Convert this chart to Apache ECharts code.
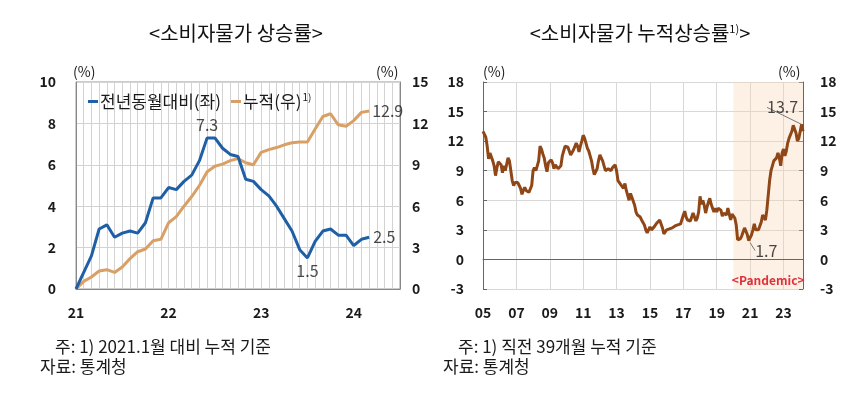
<!DOCTYPE html>
<html><head><meta charset="utf-8">
<script src="https://cdn.jsdelivr.net/npm/echarts@6/dist/echarts.min.js"></script>
<style>html,body{margin:0;padding:0;background:#fff}#c{width:857px;height:395px}</style>
</head><body><div id="c"></div>
<script>
// ---------- Left chart data (Jan 2021 = 0) ----------
const leftTickLabels = ['21','22','23','24'];
const yoyValues = [0,0.8,1.6,2.9,3.1,2.5,2.7,2.8,2.7,3.2,4.4,4.4,4.9,4.8,5.2,5.5,6.2,7.3,7.3,6.8,6.5,6.4,5.3,5.2,4.8,4.5,4.0,3.4,2.8,1.9,1.5,2.3,2.8,2.9,2.6,2.6,2.1,2.4,2.5];
const cumSince2021 = [0,0.55,0.87,1.3,1.4,1.2,1.6,2.2,2.7,2.9,3.5,3.6,4.8,5.25,6.0,6.7,7.5,8.5,8.9,9.05,9.3,9.45,9.15,9.0,9.9,10.1,10.25,10.45,10.6,10.65,10.65,11.6,12.5,12.7,11.9,11.8,12.2,12.8,12.9];
// ---------- Right chart data (39-month cumulative) ----------
const rightTickLabels = ['05','07','09','11','13','15','17','19','21','23'];
const cum2005 = [13.0,13.2,12.4,11.5,10.2,10.8,10.6,10.0,9.5,8.5,9.3,9.9];
const cum2006 = [9.8,9.6,8.8,9.5,9.0,8.8,10.3,10.0,9.0,8.0,7.5,7.8];
const cum2007 = [8.0,7.8,7.5,7.2,6.6,7.0,7.3,7.0,6.9,6.8,6.6,7.5];
const cum2008 = [9.0,9.3,9.0,9.5,10.0,11.5,11.2,10.7,10.3,9.5,8.9,9.8];
const cum2009 = [10.0,10.1,9.8,9.2,9.6,9.8,9.2,9.0,9.5,10.5,11.0,11.5];
const cum2010 = [11.7,11.4,11.0,10.6,10.8,11.1,11.3,11.8,11.5,10.9,11.5,12.0];
const cum2011 = [12.6,12.3,11.8,11.3,11.0,10.5,10.0,9.2,8.6,8.7,9.2,10.0];
const cum2012 = [10.6,10.5,10.0,9.5,9.0,8.9,9.2,9.4,9.0,9.3,9.2,9.6];
const cum2013 = [9.0,8.0,7.8,7.6,7.5,7.2,7.7,7.0,6.5,6.0,6.7,6.3];
const cum2014 = [6.3,5.5,4.8,4.5,4.3,4.3,4.0,3.8,3.5,3.0,2.7,3.0];
const cum2015 = [3.3,3.0,3.1,3.3,3.5,3.7,3.9,4.0,3.8,3.2,2.6,2.5];
const cum2016 = [3.0,2.8,3.1,3.0,3.2,3.1,3.4,3.3,3.5,3.4,3.6,3.5];
const cum2017 = [4.5,4.9,4.3,4.0,3.8,3.9,4.3,4.7,4.5,3.9,4.2,4.8];
const cum2018 = [6.4,5.6,6.0,5.5,4.7,5.3,5.8,6.2,5.6,5.2,4.8,5.2];
const cum2019 = [4.8,5.2,5.1,5.0,4.4,4.7,4.9,4.5,5.2,4.6,4.0,4.6];
const cum2020 = [4.5,4.2,3.5,2.0,1.9,2.1,2.4,2.8,3.2,3.0,2.5,1.9];
const cum2021 = [1.7,2.5,3.0,3.6,3.0,3.2,3.0,3.4,3.8,4.5,4.3,4.0];
const cum2022 = [5.0,6.5,8.0,9.0,9.5,10.0,10.2,10.3,10.8,10.3,9.5,10.8];
const cum2023 = [11.2,10.5,11.0,11.8,12.3,12.5,13.0,13.6,13.2,12.8,12.0,12.3];
const cum2024 = [13.0,13.7,13.0];

const cum39 = [].concat(cum2005,cum2006,cum2007,cum2008,cum2009,cum2010,cum2011,cum2012,cum2013,cum2014,cum2015,cum2016,cum2017,cum2018,cum2019,cum2020,cum2021,cum2022,cum2023,cum2024);

function months(y0, count){
  const out=[];
  for(let i=0;i<count;i++){const y=y0+Math.floor(i/12), m=i%12+1; out.push(y+'-'+(m<10?'0':'')+m);}
  return out;
}
const leftCats = months(2021, 43);
const rightCats = months(2005, cum39.length);

const F = '"Noto Sans CJK KR", "Noto Sans", sans-serif';
const TXT = '#1a1a1a';
const BLUE = '#1f5fa6', ORANGE = '#d9a066', BROWN = '#8f4718';

const tickStyle = {fontSize:14, fontWeight:'bold', color:TXT, fontFamily:F};
const labelStyle = {fontSize:16, color:TXT, fontFamily:F};

const peakIdx = 17, troughIdx = 30, lastIdx = yoyValues.length-1;
const minIdx = 192, maxIdx = 229;

const chart = echarts.init(document.getElementById('c'), null, {renderer:'canvas'});
chart.setOption({
  animation:false,
  textStyle:{fontFamily:F},
  grid:[
    {left:76, top:82, width:324, height:207, show:true, borderColor:'#9a9a9a', borderWidth:1},
    {left:483, top:82, width:320, height:207}
  ],
  legend:{
    data:['전년동월대비(좌)','누적(우)'],
    left:83, top:87, icon:'rect', itemWidth:10, itemHeight:3, itemGap:10,
    textStyle:{fontSize:17, color:TXT, fontFamily:F, padding:[0,0,0,-3],
      rich:{s:{fontSize:10, verticalAlign:'top', color:TXT, padding:[0,0,9,1]}}},
    formatter: n => n==='누적(우)' ? n+'{s|1)}' : n
  },
  xAxis:[
    {type:'category', gridIndex:0, data:leftCats, boundaryGap:false,
     axisLine:{lineStyle:{color:'#888'}}, axisTick:{show:false},
     axisLabel:Object.assign({margin:17, interval:(i)=>i%12===0,
       formatter:(v,i)=>leftTickLabels[Math.floor(i/12)]}, tickStyle),
     splitLine:{show:true, interval:0, lineStyle:{color:'#d3d3d3'}}},
    {type:'category', gridIndex:1, data:rightCats, boundaryGap:false,
     axisLine:{lineStyle:{color:'#666'}}, axisTick:{show:false},
     axisLabel:Object.assign({margin:17, interval:(i)=>i%24===0,
       formatter:(v,i)=>rightTickLabels[Math.floor(i/24)]}, tickStyle),
     splitLine:{show:true, interval:(i)=>i%24===0 && i>0, lineStyle:{color:'#d8d8d8'}}}
  ],
  yAxis:[
    {type:'value', gridIndex:0, min:0, max:10, interval:2,
     axisLine:{show:true, lineStyle:{color:'#888'}}, axisTick:{show:false},
     axisLabel:Object.assign({margin:20}, tickStyle),
     splitLine:{lineStyle:{color:'#d3d3d3'}}},
    {type:'value', gridIndex:0, position:'right', min:0, max:15, interval:3,
     axisLine:{show:true, lineStyle:{color:'#888'}}, axisTick:{show:false},
     axisLabel:Object.assign({margin:12}, tickStyle), splitLine:{show:false}},
    {type:'value', gridIndex:1, min:-3, max:18, interval:3,
     axisLine:{show:true, lineStyle:{color:'#666'}},
     axisTick:{show:true, inside:true, length:4, lineStyle:{color:'#666'}},
     axisLabel:Object.assign({margin:19}, tickStyle),
     splitLine:{lineStyle:{color:'#d8d8d8'}}},
    {type:'value', gridIndex:1, position:'right', min:-3, max:18, interval:3,
     axisLine:{show:true, lineStyle:{color:'#666'}},
     axisTick:{show:true, inside:true, length:4, lineStyle:{color:'#666'}},
     axisLabel:Object.assign({margin:17}, tickStyle), splitLine:{show:false}}
  ],
  series:[
    {name:'누적(우)', type:'line', xAxisIndex:0, yAxisIndex:1, data:cumSince2021,
     symbol:'none', lineStyle:{color:ORANGE, width:3}, itemStyle:{color:ORANGE}, z:3},
    {name:'전년동월대비(좌)', type:'line', xAxisIndex:0, yAxisIndex:0, data:yoyValues,
     symbol:'none', lineStyle:{color:BLUE, width:3}, itemStyle:{color:BLUE}, z:4},
    {type:'scatter', xAxisIndex:0, yAxisIndex:0, symbolSize:0, silent:true, z:5,
     data:[
       {value:[leftCats[peakIdx], yoyValues[peakIdx]], label:{show:true, position:'top', distance:5}},
       {value:[leftCats[troughIdx], yoyValues[troughIdx]], label:{show:true, position:'bottom', distance:5}},
       {value:[leftCats[lastIdx], yoyValues[lastIdx]], label:{show:true, position:'right', distance:4}}
     ],
     label:Object.assign({formatter:p=>p.value[1].toFixed(1)}, labelStyle)},
    {type:'scatter', xAxisIndex:0, yAxisIndex:1, symbolSize:0, silent:true, z:5,
     data:[{value:[leftCats[lastIdx], cumSince2021[lastIdx]], label:{show:true, position:'right', distance:3}}],
     label:Object.assign({formatter:p=>p.value[1].toFixed(1)}, labelStyle)},
    {type:'line', xAxisIndex:1, yAxisIndex:2, data:cum39, symbol:'none',
     lineStyle:{color:BROWN, width:3}, itemStyle:{color:BROWN}, z:4,
     markLine:{silent:true, symbol:'none', label:{show:false}, data:[{yAxis:0}],
       lineStyle:{color:'#666', width:1, type:'solid'}},
     markArea:{silent:true, itemStyle:{color:'rgba(250,214,182,0.35)'},
       label:{show:true, position:'insideBottom', distance:3, formatter:'<Pandemic>',
         color:'#e0303a', fontSize:12, fontWeight:'bold', fontFamily:F},
       data:[[{xAxis:'2020-01'},{xAxis:rightCats[rightCats.length-1]}]]}},
    {type:'scatter', xAxisIndex:1, yAxisIndex:2, symbolSize:0, silent:true, z:6,
     data:[
       {value:[rightCats[minIdx], cum39[minIdx]], label:{show:true, position:'right', distance:5}},
       {value:[rightCats[maxIdx], cum39[maxIdx]], label:{show:true, position:'top', distance:5}}
     ],
     label:Object.assign({formatter:p=>p.value[1].toFixed(1)}, labelStyle),
     labelLine:{show:true, lineStyle:{color:'#777', width:1}},
     labelLayout:(p)=> p.dataIndex===0 ? {dy:8} : {dx:-19, dy:-4}}
  ],
  graphic:[
    {type:'text', x:236, y:33, style:{text:'<소비자물가 상승률>', align:'center', verticalAlign:'middle', fontSize:20, fontFamily:F, fill:'#111'}},
    {type:'text', x:640, y:33, style:{text:'{t|<소비자물가 누적상승률}{s|1)}{t|>}', align:'center', verticalAlign:'middle', fontFamily:F, fill:'#111',
      rich:{t:{fontSize:20, fontFamily:F, fill:'#111'}, s:{fontSize:11, fontFamily:F, fill:'#111', verticalAlign:'top'}}}},
    {type:'text', x:73, y:72, style:{text:'(%)', verticalAlign:'middle', fontSize:14, fontFamily:F, fill:TXT}},
    {type:'text', x:376, y:72, style:{text:'(%)', verticalAlign:'middle', fontSize:14, fontFamily:F, fill:TXT}},
    {type:'text', x:483, y:72, style:{text:'(%)', verticalAlign:'middle', fontSize:14, fontFamily:F, fill:TXT}},
    {type:'text', x:778, y:72, style:{text:'(%)', verticalAlign:'middle', fontSize:14, fontFamily:F, fill:TXT}},
    {type:'text', x:55, y:347, style:{text:'주: 1) 2021.1월 대비 누적 기준', verticalAlign:'middle', fontSize:17, fontFamily:F, fill:TXT}},
    {type:'text', x:40, y:367, style:{text:'자료: 통계청', verticalAlign:'middle', fontSize:17, fontFamily:F, fill:TXT}},
    {type:'text', x:458, y:347, style:{text:'주: 1) 직전 39개월 누적 기준', verticalAlign:'middle', fontSize:17, fontFamily:F, fill:TXT}},
    {type:'text', x:443, y:367, style:{text:'자료: 통계청', verticalAlign:'middle', fontSize:17, fontFamily:F, fill:TXT}}
  ]
});
</script></body></html>
